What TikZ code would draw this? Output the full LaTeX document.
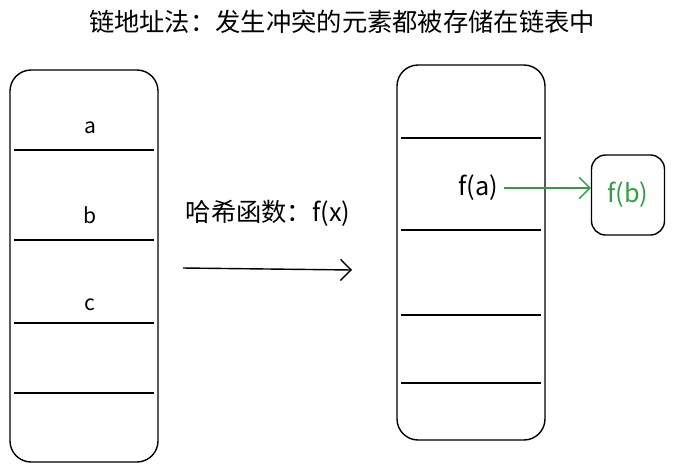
\documentclass[tikz,border=0pt]{standalone}
\usepackage{fontspec}
\setmainfont{Noto Sans CJK SC}
\usetikzlibrary{positioning,arrows.meta}
\definecolor{chaingreen}{RGB}{47,158,68}
\tikzset{
  slot/.style={draw, thick, rounded corners=12pt},
  sep/.style={thick},
  lbl/.style={font=\large}
}
\begin{document}
\begin{tikzpicture}[x=0.02cm, y=-0.02cm]
  \useasboundingbox (0,0) rectangle (685,470);
  % Title
  \node[font=\Large] (title) at (342,22) {链地址法：发生冲突的元素都被存储在链表中};

  % Left table
  \draw[slot] (10,70) rectangle (158,462);
  \foreach \y in {150,240,323,393} {
    \draw[sep] (14,\y) -- (154,\y);
  }
  \node[lbl] (ka) at (90,128) {a};
  \node[lbl] (kb) at (90,215) {b};
  \node[lbl] (kc) at (90,305) {c};

  % Hash function
  \coordinate (hs) at (183,268);
  \coordinate (he) at (352,270);
  \draw[thick, -{Straight Barb[length=6pt]}] (hs) -- (he);
  \node[font=\Large] (hash) at (268,213) {哈希函数：f(x)};

  % Right table
  \draw[slot] (397,65) rectangle (545,440);
  \foreach \y in {138,230,315,383} {
    \draw[sep] (401,\y) -- (541,\y);
  }
  \node[font=\Large] (fa) at (478,188) {f(a)};
  \node[font=\Large, draw, thick, rounded corners=8pt, text=chaingreen,
        minimum width=1.46cm, minimum height=1.6cm] (fb) at (628,195) {f(b)};
  \draw[thick, chaingreen, -{Straight Barb[length=6pt]}] (fa.east) -- (fb.west |- fa.east);
\end{tikzpicture}
\end{document}
